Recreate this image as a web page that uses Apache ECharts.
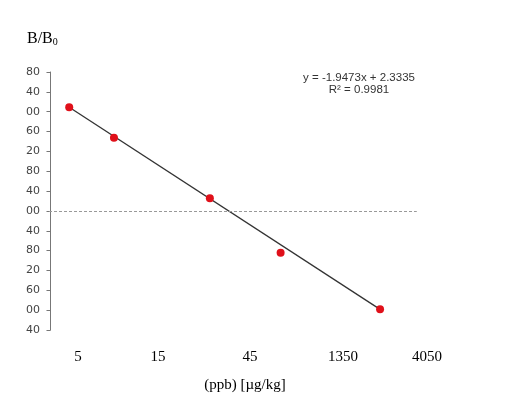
<!DOCTYPE html>
<html>
<head>
<meta charset="utf-8">
<script src="https://cdn.jsdelivr.net/npm/echarts@6/dist/echarts.min.js"></script>
<style>
  html, body { margin: 0; padding: 0; background: #fff; }
  #chart { width: 528px; height: 411px; }
</style>
</head>
<body>
<div id="chart"></div>
<script>
// measured points (x in regression units, y = B/B0)
const xValues = [0.126, 0.427, 1.072, 1.548, 2.217];
const yValues = [2.088, 1.475, 0.254, -0.843, -1.984];

// x axis labels and where they sit on the x scale
const xTickValues = [0.185, 0.723, 1.342, 1.967, 2.532];
const xTickLabels = ['5', '15', '45', '1350', '4050'];

// y axis labels as printed, top to bottom (2.8 down to -2.4)
const yTickLabels = ['80', '40', '00', '60', '20', '80', '40', '00', '40', '80', '20', '60', '00', '40'];

// trendline shown on the chart
const slope = -1.9473;
const intercept = 2.3335;
const r2 = 0.9981;

document.addEventListener('DOMContentLoaded', () => {
  const chart = echarts.init(document.getElementById('chart'));

  const points = xValues.map((x, i) => [x, yValues[i]]);
  const xFirst = xValues[0];
  const xLast = xValues[xValues.length - 1];
  const trend = [[xFirst, slope * xFirst + intercept], [xLast, slope * xLast + intercept]];

  const option = {
    animation: false,
    backgroundColor: '#fff',
    grid: { left: 49, right: 91, top: 72, bottom: 81 },
    title: {
      text: 'B/B{sub|0}',
      left: 22,
      top: 26,
      textStyle: {
        fontFamily: 'Liberation Serif',
        fontSize: 16,
        fontWeight: 'normal',
        color: '#000',
        rich: {
          sub: { fontFamily: 'Liberation Serif', fontSize: 10, verticalAlign: 'bottom', padding: [6, 0, 0, 0], color: '#000' }
        }
      }
    },
    graphic: [
      {
        type: 'text',
        x: 359,
        y: 72,
        style: {
          text: 'y = ' + slope + 'x + ' + intercept + '\nR² = ' + r2,
          align: 'center',
          fontFamily: 'Liberation Sans',
          fontSize: 11.5,
          lineHeight: 12,
          fill: '#333'
        }
      },
      {
        type: 'text',
        x: 245,
        y: 378,
        style: {
          text: '(ppb) [µg/kg]',
          align: 'center',
          fontFamily: 'Liberation Serif',
          fontSize: 15,
          fill: '#000'
        }
      }
    ],
    xAxis: {
      type: 'value',
      min: -0.01,
      max: 2.6,
      axisLine: { show: false },
      axisTick: { show: false },
      splitLine: { show: false },
      axisLabel: {
        customValues: xTickValues,
        formatter: v => {
          let best = 0;
          xTickValues.forEach((t, i) => {
            if (Math.abs(t - v) < Math.abs(xTickValues[best] - v)) best = i;
          });
          return xTickLabels[best];
        },
        margin: 20,
        fontFamily: 'Liberation Serif',
        fontSize: 15,
        color: '#000'
      }
    },
    yAxis: {
      type: 'value',
      min: -2.4,
      max: 2.8,
      interval: 0.4,
      axisLine: { show: true, lineStyle: { color: '#777', width: 1 } },
      axisTick: { show: true, length: 4, lineStyle: { color: '#777' } },
      splitLine: { show: false },
      axisLabel: {
        formatter: v => yTickLabels[Math.round((2.8 - v) / 0.4)],
        margin: 9,
        fontFamily: 'DejaVu Sans',
        fontSize: 11,
        color: '#444'
      }
    },
    series: [
      {
        name: 'Trend',
        type: 'line',
        data: trend,
        showSymbol: false,
        lineStyle: { color: '#333', width: 1.3 },
        markLine: {
          silent: true,
          symbol: 'none',
          label: { show: false },
          lineStyle: { color: '#999', type: [3, 2], width: 1 },
          data: [[{ coord: [-0.01, 0] }, { coord: [2.464, 0] }]]
        },
        z: 2
      },
      {
        name: 'Data',
        type: 'scatter',
        data: points,
        symbolSize: 8,
        itemStyle: { color: '#e0101a', opacity: 1 },
        z: 3
      }
    ]
  };

  chart.setOption(option);
});
</script>
</body>
</html>
